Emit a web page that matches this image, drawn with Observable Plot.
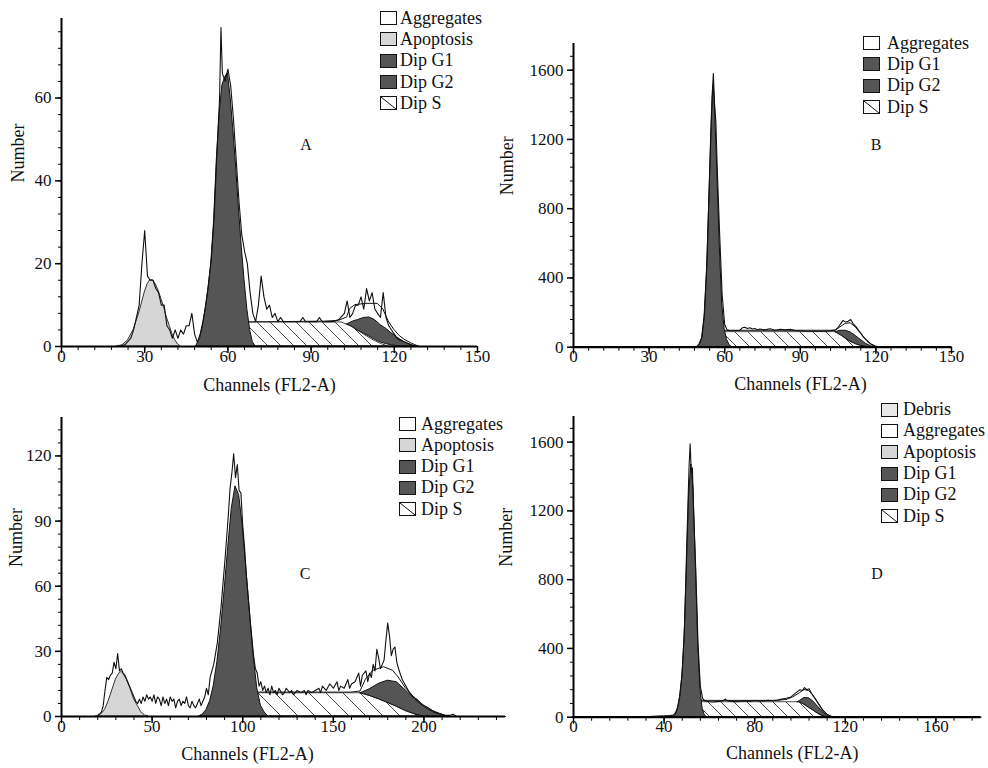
<!DOCTYPE html>
<html><head><meta charset="utf-8">
<script src="https://cdn.jsdelivr.net/npm/d3@7"></script>
<script src="https://cdn.jsdelivr.net/npm/@observablehq/plot@0.6"></script>
<style>
body{margin:0;background:#fff;width:988px;height:768px;position:relative;overflow:hidden;font-family:"Liberation Serif","Times New Roman",serif;color:#111;}
.panel{position:absolute;}
.panel svg, .panel svg text{font-family:"Liberation Serif","Times New Roman",serif !important;}
.legend{position:absolute;font-size:18px;}
.legend .row{display:flex;align-items:center;height:21.3px;white-space:nowrap;}
.legend svg{display:block;flex:none;}
.letter{position:absolute;font-size:16px;transform:translate(-50%,-50%);}
</style></head><body>
<svg width="0" height="0" style="position:absolute">
<defs>
<pattern id="hatch" patternUnits="userSpaceOnUse" width="13" height="13"><path d="M0,0L13,13M-3,10L3,16M10,-3L16,3" stroke="#333" stroke-width="0.9"/></pattern>
<pattern id="hatchC" patternUnits="userSpaceOnUse" width="17" height="17"><path d="M0,0L17,17M-3,14L3,20M14,-3L20,3" stroke="#333" stroke-width="0.9"/></pattern>
</defs></svg>
<div id="root"></div>
<script>
// ---------------- Panel A ----------------
const aObserved = [[0,0],[21,0],[23,0.5],[25,2],[26,4],[27,7],[28,10],[29,20],[30,28],[31,17],[32,16],[33,16],[34,14],[35,13],[36,10],[37,10],[38,5],[39,4],[40,2],[41,4],[42,2],[43,4],[44,3],[45,5],[46,5],[47,8],[48,3],[49,1],[50,3],[51,6],[52,10],[53,15],[54,21],[55,31],[56,46],[57,60],[57.5,77],[58,66],[59,64],[60,67],[61,63],[62,55],[63,45],[64,35],[65,27],[66,23],[67,20],[68,13],[69,8],[70,6],[71,10],[72,17],[73,12],[74,9],[75,10],[76,7],[77,8],[78,6],[79,7],[80,6],[82,6],[84,6],[86,6],[87,7],[88,6],[90,6],[92,6],[93,7],[94,6],[96,6],[98,6],[100,6.5],[102,8],[103,11],[104,7],[105,8],[106,10],[107,10],[108,12],[109,9],[110,14],[111,11],[112,13],[113,9],[114,8],[115,7],[116,13],[117,7],[118,5],[119,4],[120,3],[121,2],[122,1.5],[124,1],[126,0.5],[128,0],[150,0]];
const aApoptosis = [[20,0],[22,0.3],[24,1.5],[26,4],[28,8],[30,13],[31,15],[32,16],[33,16],[34,15],[35,13.5],[36,11.5],[37,9.5],[38,7],[39,5],[40,3],[41,1.5],[42,0.5],[43,0]];
const aDipG1 = [[48.5,0],[50,2],[51,5],[52,9],[53,14],[54,20],[55,30],[56,45],[57,56],[58,63],[59,65],[60,66],[61,60],[62,52],[63,43],[64,33],[65,24],[66,16],[67,9],[68,4],[69,1],[70,0]];
const aDipS = [[53,0],[55,1],[57,2.2],[59,3.4],[61,4.5],[63,5.3],[65,5.8],[101,5.8],[104,5],[107,3.8],[110,2.5],[113,1.3],[116,0.4],[118,0]];
const aDipG2 = [[103,5.3,5.3],[105,4.7,6.0],[107,3.8,6.4],[109,3.1,6.9],[111,2.4,7.0],[113,1.6,6.4],[115,1.0,5.2],[117,0.6,4.3],[119,0.3,3.2],[121,0.1,2.2],[123,0,1.3],[125,0,0.6],[127,0,0.1],[128,0,0]];
const aAggregates = [[60,0],[64,5.8],[95,6],[100,6.2],[103,7],[104,9],[106,10],[110,10.3],[114,10.3],[116,9],[118,6],[120,4],[122,2.5],[124,1.5],[126,0.8],[128,0.2],[129,0]];
const aXTicks = [0,30,60,90,120,150];
const aYTicks = [0,20,40,60];

// ---------------- Panel B ----------------
const bObserved = [[0,0],[45,0],[48,2],[49,5],[50,20],[51,60],[52,200],[53,500],[54,1000],[54.5,1250],[55,1450],[55.5,1580],[56,1400],[56.5,1300],[57,1050],[58,650],[59,300],[60,130],[61,100],[62,95],[64,95],[66,98],[67,112],[68,115],[69,108],[70,112],[71,105],[72,108],[73,100],[74,105],[76,100],[78,107],[80,98],[82,104],[84,100],[86,103],[88,96],[90,95],[92,93],[95,92],[98,92],[100,93],[102,95],[104,100],[105,115],[106,135],[107,155],[108,145],[109,150],[110,160],[111,135],[112,120],[113,100],[114,80],[115,60],[116,45],[117,30],[118,18],[119,8],[120,3],[121,0],[150,0]];
const bDipG1 = [[49,0],[50,15],[51,50],[52,170],[53,450],[54,900],[55,1350],[55.5,1510],[56,1450],[57,1050],[58,600],[59,250],[60,100],[61,40],[62,10],[63,0]];
const bDipS = [[52,0],[54,20],[56,45],[58,75],[59.5,87],[104,87],[106,70],[108,50],[110,32],[112,18],[114,8],[116,2],[117,0]];
const bDipG2 = [[104,87,87],[106,70,95],[108,50,95],[110,32,85],[112,18,65],[114,8,42],[116,2,20],[118,0,6],[119,0,0]];
const bAggregates = [[57,0],[60,95],[104,95],[106,115],[108,135],[110,138],[112,115],[114,80],[116,45],[118,18],[120,4],[121,0]];
const bXTicks = [0,30,60,90,120,150];
const bYTicks = [0,400,800,1200,1600];

// ---------------- Panel C ----------------
const cObserved = [[0,0],[18,0],[20,0.5],[22,2],[23,5],[24,12],[25,18],[26,17],[27,19],[28,20],[29,25],[30,22],[31,29],[32,21],[33,22],[34,20],[35,19],[36,17],[37,15],[38,13],[39,11],[40,9],[41,7],[42,6],[43,8],[44,6],[45,9],[46,7],[47,10],[48,8],[49,9],[50,7],[51,10],[52,6],[53,9],[54,8],[55,5],[56,9],[57,6],[58,8],[59,5],[60,9],[61,7],[62,8],[63,4],[64,7],[65,8],[66,5],[67,7],[68,6],[69,9],[70,5],[71,4],[72,7],[73,5],[74,4],[75,6],[76,8],[77,5],[78,7],[79,9],[80,13],[81,10],[82,18],[84,24],[86,34],[88,50],[90,70],[92,92],[93,105],[94,112],[95,121],[96,110],[97,116],[98,104],[99,103],[100,88],[101,78],[102,65],[104,45],[106,28],[107,22],[108,20],[109,14],[110,16],[111,12],[112,14],[113,11],[114,13],[115,10],[116,14],[117,11],[118,12],[119,10],[120,13],[122,10],[123,11],[124,13],[126,11],[127,12],[128,10],[130,12],[132,11],[134,12],[135,10],[136,12],[138,11],[140,12],[142,13],[143,11],[144,14],[146,12],[148,15],[150,13],[152,16],[153,12],[154,14],[156,13],[158,17],[159,13],[160,15],[162,16],[164,20],[165,14],[166,19],[168,21],[169,16],[170,20],[171,18],[172,24],[173,21],[174,31],[175,27],[176,22],[177,24],[178,26],[179,35],[180,43],[181,37],[182,28],[183,31],[184,32],[185,25],[186,22],[188,17],[190,14],[192,11],[194,9],[196,8],[198,6],[200,5],[202,4],[204,3],[206,2],[208,1.5],[210,1],[212,0.5],[214,0.5],[216,1],[218,0],[245,0]];
const cApoptosis = [[20,0],[22,1],[24,3],[26,7],[28,12],[30,17],[32,20],[33,20.5],[34,20],[36,17],[38,13],[40,8],[42,5],[44,2],[46,0.5],[48,0]];
const cDipG1 = [[76,0],[78,1],[80,3],[82,7],[84,14],[86,25],[88,40],[90,58],[92,78],[94,96],[96,106],[98,102],[100,88],[102,68],[104,48],[106,28],[108,13],[110,5],[112,2],[114,0]];
const cDipS = [[87,0],[90,2],[94,5],[98,8],[102,10],[106,10.7],[165,10.7],[170,9.5],[175,8],[180,6.3],[185,4.5],[190,2.5],[195,1],[200,0]];
const cDipG2 = [[165,10.7,10.7],[170,9.5,12.5],[175,8,15],[180,6.3,16.5],[185,4.5,15.8],[190,2.5,12],[195,1,8],[200,0,4.5],[205,0,2],[210,0,0.5],[212,0,0]];
const cAggregates = [[84,0],[106,11],[160,11],[165,11.5],[168,17],[172,21],[178,22.7],[183,21],[186,18],[190,13],[195,8.5],[200,5],[205,2.5],[210,0.8],[213,0]];
const cXTicks = [0,50,100,150,200];
const cYTicks = [0,30,60,90,120];

// ---------------- Panel D ----------------
const dObserved = [[0,0],[33,0],[35,3],[38,5],[40,6],[42,8],[44,12],[45,25],[46,60],[47,130],[48,260],[49,520],[50,1000],[51,1450],[51.5,1590],[52,1420],[52.5,1450],[53,1200],[54,850],[55,420],[56,180],[57,110],[58,95],[60,90],[62,88],[64,92],[66,95],[67,105],[68,95],[70,92],[72,90],[74,93],[76,95],[78,92],[80,97],[82,93],[84,95],[86,98],[88,96],[90,100],[92,105],[94,110],[96,118],[98,140],[99,150],[100,160],[101,155],[102,172],[103,160],[104,165],[105,140],[106,120],[107,100],[108,80],[109,60],[110,40],[111,28],[112,15],[113,8],[114,4],[115,1],[116,0],[180,0]];
const dDebris = [[33,0],[36,4],[40,6],[44,7],[48,5],[52,3],[56,1],[60,0]];
const dDipG1 = [[44,0],[45,10],[46,40],[47,110],[48,230],[49,450],[50,850],[51,1280],[52,1470],[53,1330],[54,900],[55,450],[56,170],[57,50],[58,10],[59,0]];
const dDipS = [[49,0],[51,25],[53,55],[55,80],[56,87],[100,87],[102,72],[104,55],[106,38],[108,20],[110,7],[112,0]];
const dDipG2 = [[99,87,87],[100,87,95],[102,72,112],[104,55,110],[106,38,90],[108,20,60],[110,7,30],[112,0,8],[113,0,0]];
const dAggregates = [[54,0],[56,95],[60,95],[90,95],[94,100],[97,115],[100,140],[102,158],[104,152],[106,125],[108,85],[110,45],[112,15],[114,3],[115,0]];
const dXTicks = [0,40,80,120,160];
const dYTicks = [0,400,800,1200,1600];

const legendA = ["Aggregates","Apoptosis","Dip G1","Dip G2","Dip S"];
const legendB = ["Aggregates","Dip G1","Dip G2","Dip S"];
const legendC = ["Aggregates","Apoptosis","Dip G1","Dip G2","Dip S"];
const legendD = ["Debris","Aggregates","Apoptosis","Dip G1","Dip G2","Dip S"];

const FILLS = {"Debris":"#e8e8e8","Aggregates":"#ffffff","Apoptosis":"#d6d6d6","Dip G1":"#555555","Dip G2":"#555555","Dip S":"hatch"};
const SERIF = "Liberation Serif";

const root = document.getElementById("root");

function makePanel(c) {
  const X = d => d[0], Y = d => d[1];
  const marks = [];
  marks.push(Plot.areaY(c.agg, {x: X, y: Y, fill: "#fff", stroke: "#111", strokeWidth: 1}));
  if (c.debris) marks.push(Plot.areaY(c.debris, {x: X, y: Y, fill: FILLS["Debris"], stroke: "#333", strokeWidth: 0.8}));
  marks.push(Plot.areaY(c.s, {x: X, y: Y, fill: `url(#${c.hatch})`, stroke: "#222", strokeWidth: 0.8}));
  marks.push(Plot.areaY(c.g2, {x: X, y1: d => d[1], y2: d => d[2], fill: FILLS["Dip G2"], stroke: "#111", strokeWidth: 1}));
  if (c.apo) marks.push(Plot.areaY(c.apo, {x: X, y: Y, fill: FILLS["Apoptosis"], stroke: "#333", strokeWidth: 1}));
  marks.push(Plot.areaY(c.g1, {x: X, y: Y, fill: FILLS["Dip G1"], stroke: "#111", strokeWidth: 1}));
  marks.push(Plot.line(c.obs, {x: X, y: Y, stroke: "#111", strokeWidth: 1.1}));
  marks.push(Plot.ruleY([0], {strokeWidth: 2.2, stroke: "#000"}));
  marks.push(Plot.ruleX([0], {strokeWidth: 2, stroke: "#000"}));
  marks.push(Plot.axisX(c.xMinor, {tickSize: 4, tickFormat: () => "", label: null, stroke: "#000"}));
  marks.push(Plot.axisX(c.xTicks, {tickSize: 7, tickPadding: -4, strokeWidth: 1.5, label: null, fontSize: 17, fontFamily: SERIF, tickFormat: d => String(d), stroke: "#000"}));
  marks.push(Plot.axisY(c.yMinor, {tickSize: 3, tickFormat: () => "", label: null, stroke: "#000"}));
  marks.push(Plot.axisY(c.yTicks, {tickSize: 6, tickPadding: 4, strokeWidth: 1.5, label: null, fontSize: 17, fontFamily: SERIF, tickFormat: d => String(d), stroke: "#000"}));
  marks.push(Plot.text(["Number"], {frameAnchor: "left", dx: c.yLabelDx, rotate: -90, fontSize: 18, fontFamily: SERIF}));
  marks.push(Plot.text(["Channels (FL2-A)"], {frameAnchor: "bottom", dx: c.xLabelDx, dy: c.xLabelDy, fontSize: 18, fontFamily: SERIF}));
  const svg = Plot.plot({
    width: c.width, height: c.height,
    marginLeft: c.ml, marginRight: c.mr, marginTop: c.mt, marginBottom: c.mb,
    x: {domain: c.xDomain},
    y: {domain: c.yDomain},
    style: {background: "transparent", fontFamily: SERIF, fontSize: "17px", color: "#111", overflow: "visible"},
    marks
  });
  const div = document.createElement("div");
  div.className = "panel";
  div.style.left = c.left + "px";
  div.style.top = c.top + "px";
  div.style.width = c.width + "px";
  div.appendChild(svg);
  root.appendChild(div);

  const lg = document.createElement("div");
  lg.className = "legend";
  lg.style.left = c.legend.x + "px";
  lg.style.top = c.legend.y + "px";
  for (const name of c.legend.items) {
    const row = document.createElement("div");
    row.className = "row";
    const f = FILLS[name];
    const sw = f === "hatch"
      ? `<svg width="17" height="14"><rect x="0.5" y="0.5" width="16" height="13" fill="#fff" stroke="#111"/><path d="M1,1L16,13" stroke="#111"/></svg>`
      : `<svg width="17" height="14"><rect x="0.5" y="0.5" width="16" height="13" fill="${f}" stroke="#111"/></svg>`;
    row.innerHTML = sw + `<span style="margin-left:${c.legend.gap}px">${name}</span>`;
    lg.appendChild(row);
  }
  root.appendChild(lg);

  const lt = document.createElement("div");
  lt.className = "letter";
  lt.style.left = c.letter.x + "px";
  lt.style.top = c.letter.y + "px";
  lt.textContent = c.letter.t;
  root.appendChild(lt);
}

makePanel({left: 0, top: 0, width: 494, height: 400, ml: 61, mr: 17, mt: 18, mb: 54,
  xDomain: [0, 150], yDomain: [0, 79.2], xTicks: aXTicks, xMinor: d3.range(0, 151, 6), yTicks: aYTicks, yMinor: d3.range(0, 79, 4),
  obs: aObserved, apo: aApoptosis, g1: aDipG1, s: aDipS, g2: aDipG2, agg: aAggregates, hatch: "hatch",
  yLabelDx: -43, xLabelDx: 0, xLabelDy: 44,
  legend: {x: 380, y: 7.5, gap: 3, items: legendA}, letter: {x: 306, y: 145, t: "A"}});

makePanel({left: 494, top: 0, width: 494, height: 400, ml: 79, mr: 37, mt: 43, mb: 53.3,
  xDomain: [0, 150], yDomain: [0, 1754], xTicks: bXTicks, xMinor: d3.range(0, 151, 6), yTicks: bYTicks, yMinor: d3.range(0, 1751, 80),
  obs: bObserved, g1: bDipG1, s: bDipS, g2: bDipG2, agg: bAggregates, hatch: "hatch",
  yLabelDx: -66, xLabelDx: 38, xLabelDy: 43,
  legend: {x: 863, y: 32.5, gap: 7, items: legendB}, letter: {x: 876, y: 145, t: "B"}});

makePanel({left: 0, top: 384, width: 510, height: 384, ml: 61, mr: 5, mt: 33, mb: 52,
  xDomain: [0, 245], yDomain: [0, 137.7], xTicks: cXTicks, xMinor: d3.range(0, 241, 10), yTicks: cYTicks, yMinor: d3.range(0, 137, 6),
  obs: cObserved, apo: cApoptosis, g1: cDipG1, s: cDipS, g2: cDipG2, agg: cAggregates, hatch: "hatchC",
  yLabelDx: -45, xLabelDx: -36, xLabelDy: 43,
  legend: {x: 399, y: 413.4, gap: 5, items: legendC}, letter: {x: 305, y: 574, t: "C"}});

makePanel({left: 494, top: 384, width: 494, height: 384, ml: 79, mr: 7.3, mt: 32, mb: 51.3,
  xDomain: [0, 180], yDomain: [0, 1749], xTicks: dXTicks, xMinor: d3.range(0, 177, 8), yTicks: dYTicks, yMinor: d3.range(0, 1741, 80),
  obs: dObserved, debris: dDebris, apo: null, g1: dDipG1, s: dDipS, g2: dDipG2, agg: dAggregates, hatch: "hatch",
  yLabelDx: -67, xLabelDx: 15, xLabelDy: 42,
  legend: {x: 881, y: 399, gap: 5, items: legendD}, letter: {x: 877, y: 574, t: "D"}});
</script>
</body></html>
